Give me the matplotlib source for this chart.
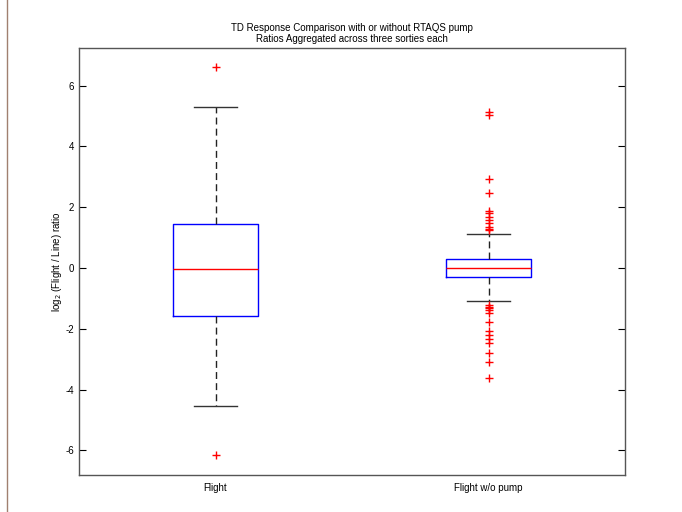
import matplotlib
matplotlib.use("Agg")
import matplotlib.pyplot as plt
from matplotlib.lines import Line2D

plt.rcParams['font.family'] = ['Liberation Sans', 'DejaVu Sans']

categories = ["Flight", "Flight w/o pump"]
medians = [-0.02, 0.0]
q1 = [-1.58, -0.30]
q3 = [1.45, 0.30]
whislo = [-4.54, -1.09]
whishi = [5.30, 1.13]
fliers_flight = [6.61, -6.15]
fliers_nopump = [5.12, 5.05, 2.93, 2.48, 1.89, 1.80, 1.69, 1.58, 1.47, 1.36, 1.30, 1.25,
                 -1.22, -1.28, -1.33, -1.38, -1.48, -1.78, -2.07, -2.20, -2.34, -2.47,
                 -2.80, -3.09, -3.62]
fliers = [fliers_flight, fliers_nopump]
yticks = [-6, -4, -2, 0, 2, 4, 6]

fig = plt.figure(figsize=(6.82, 5.12), dpi=100)
ax = fig.add_axes([79/682, 37/512, 546/682, 427/512])

stats = []
for i, lab in enumerate(categories):
    stats.append(dict(label=lab, med=medians[i], q1=q1[i], q3=q3[i],
                      whislo=whislo[i], whishi=whishi[i], fliers=fliers[i]))

ax.bxp(stats, positions=[1, 2], widths=0.31, capwidths=0.155,
       boxprops=dict(color='#0000ff', linewidth=1.0),
       medianprops=dict(color='#ff0000', linewidth=1.0),
       whiskerprops=dict(color='#222222', linestyle=(0, (5, 3)), linewidth=1.0),
       capprops=dict(color='#333333', linewidth=1.0),
       flierprops=dict(marker='+', markeredgecolor='#ff0000', markersize=6,
                       markeredgewidth=1.0, linestyle='none'))

ax.set_xlim(0.5, 2.5)
ax.set_ylim(-6.81, 7.24)
ax.set_yticks(yticks)
ax.set_yticklabels([str(t) for t in yticks])
ax.tick_params(axis='y', direction='in', right=True, length=5, labelsize=7, width=0.8)
ax.tick_params(axis='x', length=0, labelsize=7, pad=6)
for s in ax.spines.values():
    s.set_color('#555555')
    s.set_linewidth(1.0)

ax.set_ylabel(r'log$_2$ (Flight / Line) ratio', fontsize=7, labelpad=1)
ax.set_title('TD Response Comparison with or without RTAQS pump\nRatios Aggregated across three sorties each',
             fontsize=7, pad=4, linespacing=1.2)

fig.add_artist(Line2D([7/682, 7/682], [0, 1], transform=fig.transFigure,
                      color='#a08070', linewidth=1.0))

fig.savefig('out.png', dpi=100)
